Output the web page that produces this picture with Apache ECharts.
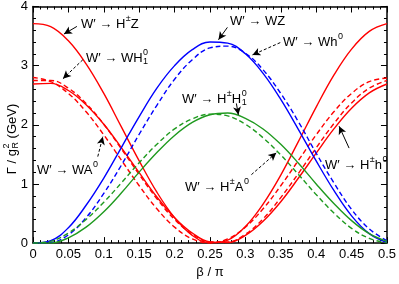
<!DOCTYPE html>
<html>
<head>
<meta charset="utf-8">
<script src="https://cdn.jsdelivr.net/npm/echarts@6/dist/echarts.min.js"></script>
<style>
html,body{margin:0;padding:0;background:#fff;}
#c{width:399px;height:284px;}
</style>
</head>
<body>
<div id="c"></div>
<script>
// ---- data ----
const beta = [0,0.025,0.05,0.075,0.1,0.125,0.15,0.175,0.2,0.225,0.25,0.275,0.3,0.325,0.35,0.375,0.4,0.425,0.45,0.475,0.5];
const wHpmZ  = [3.71,3.66,3.42,3.03,2.53,1.96,1.39,0.86,0.43,0.13,0.005,0.05,0.28,0.66,1.15,1.72,2.30,2.84,3.28,3.58,3.71];
const wHpmh0 = [2.69,2.70,2.58,2.34,2.01,1.61,1.19,0.78,0.43,0.17,0.02,0.01,0.13,0.37,0.70,1.10,1.52,1.93,2.28,2.54,2.69];
const wWH10  = [2.80,2.73,2.53,2.22,1.83,1.40,0.97,0.58,0.27,0.07,0.0,0.07,0.27,0.58,0.97,1.40,1.83,2.22,2.53,2.73,2.79];
const wWA0   = [2.75,2.75,2.62,2.36,2.01,1.59,1.16,0.75,0.40,0.15,0.02,0.02,0.15,0.41,0.77,1.18,1.61,2.02,2.37,2.62,2.75];
const wWZ    = [0.0,0.04,0.26,0.64,1.10,1.62,2.14,2.62,3.00,3.27,3.40,3.38,3.20,2.87,2.43,1.92,1.39,0.89,0.46,0.16,0.01];
const wWh0   = [0.0,0.01,0.14,0.43,0.84,1.32,1.84,2.33,2.77,3.10,3.30,3.33,3.21,2.93,2.53,2.05,1.52,1.02,0.57,0.24,0.04];
const wHH10  = [0.0,0.0,0.09,0.27,0.53,0.85,1.20,1.53,1.82,2.04,2.17,2.20,2.11,1.93,1.67,1.35,1.00,0.67,0.38,0.16,0.03];
const wHA0   = [0.0,0.03,0.17,0.40,0.69,1.02,1.36,1.67,1.93,2.10,2.18,2.15,2.01,1.78,1.49,1.16,0.82,0.51,0.25,0.08,0.0];
const xTickLabels = ['0','0.05','0.1','0.15','0.2','0.25','0.3','0.35','0.4','0.45','0.5'];
const yTickLabels = ['0','1','2','3','4'];

// arrows: [from, to] in data coords, dashed flag
const arrows = [
  [[0.062,3.663],[0.0437,3.534],false],
  [[0.0704,3.100],[0.0423,2.779],true],
  [[0.2746,3.647],[0.262,3.438],false],
  [[0.3493,3.390],[0.3099,3.181],true],
  [[0.2873,2.361],[0.2901,2.169],false],
  [[0.0915,1.462],[0.0986,1.799],true],
  [[0.3085,1.157],[0.3437,1.526],true],
  [[0.4465,1.606],[0.4324,1.976],false]
];

const FONT = '"Liberation Sans", Arial, Helvetica, sans-serif';
const RED='#ff0000', BLUE='#0000ff', GREEN='#1f9a1f';

const cv = document.createElement('canvas').getContext('2d');
function tw(t, s){ cv.font = s + 'px ' + FONT; return cv.measureText(t).width; }

// build composite label: parts = [text,'n'] | [text,'sup'] | [text,'sub'] | [[sub,sup],'ss']
function buildLabel(x0, y, parts, size){
  size = size || 13;
  const ss = Math.round(size*0.68);
  const els = [];
  let x = x0;
  const mk = (t, xx, yy, s) => ({type:'text', style:{text:t, x:xx, y:yy, fill:'#000', font: s+'px '+FONT, align:'left', verticalAlign:'middle'}});
  parts.forEach(p => {
    const k = p[1];
    if (k === 'n'){ els.push(mk(p[0], x, y, size)); x += tw(p[0], size); }
    else if (k === 'sup'){ els.push(mk(p[0], x+0.5, y-5, ss)); x += tw(p[0], ss)+0.5; }
    else if (k === 'sub'){ els.push(mk(p[0], x+0.5, y+4, ss)); x += tw(p[0], ss)+0.5; }
    else if (k === 'ss'){
      els.push(mk(p[0][0], x+0.5, y+4, ss));
      els.push(mk(p[0][1], x+0.5, y-5, ss));
      x += Math.max(tw(p[0][0], ss), tw(p[0][1], ss))+0.5;
    }
  });
  return {els, width: x - x0};
}

const labels = [
  [81, 24, [['W′ → H','n'],['±','sup'],['Z','n']]],
  [86, 58, [['W′ → WH','n'],[['1','0'],'ss']]],
  [230, 21, [['W′ → WZ','n']]],
  [283, 42, [['W′ → Wh','n'],['0','sup']]],
  [182, 99, [['W′ → H','n'],['±','sup'],['H','n'],[['1','0'],'ss']]],
  [37, 170, [['W′ → WA','n'],['0','sup']]],
  [185, 187, [['W′ → H','n'],['±','sup'],['A','n'],['0','sup']]],
  [325, 165, [['W′ → H','n'],['±','sup'],['h','n'],['0','sup']]]
];

const graphics = [];
labels.forEach(l => { buildLabel(l[0], l[1], l[2]).els.forEach(e => graphics.push(e)); });

// y-axis title (rotated)
const yt = buildLabel(0, 0, [['Γ / g','n'],[['R','2'],'ss'],[' (GeV)','n']], 13);
yt.els.forEach(e => { e.style.x -= yt.width/2; });
graphics.push({type:'group', x:12, y:139, rotation:Math.PI/2, children: yt.els});

const chart = echarts.init(document.getElementById('c'), null, {renderer:'canvas'});
function mkSeries(name, ys, color, dashed){
  return {name, type:'line', data: beta.map((b,i)=>[b, ys[i]]), showSymbol:false, smooth:0.4,
    lineStyle:{color, width:1.4, type: dashed ? [5,3] : 'solid'}, itemStyle:{color}, silent:true, z:2};
}
const axisCommon = {
  axisLine:{show:true, onZero:false, lineStyle:{color:'#000', width:1.5}},
  axisTick:{show:true, inside:true, length:6, lineStyle:{color:'#000', width:1}},
  minorTick:{show:true, splitNumber:5, length:3, lineStyle:{color:'#000', width:1}},
  splitLine:{show:false}
};
const option = {
  animation:false,
  backgroundColor:'#fff',
  grid:{left:33, right:11, top:5, bottom:29, containLabel:false},
  xAxis:[
    Object.assign({type:'value', min:0, max:0.5, interval:0.05, position:'bottom',
      axisLabel:{color:'#000', fontSize:13, fontFamily:FONT, margin:5,
        formatter:v => xTickLabels[Math.round(v/0.05)]},
      name:'β / π', nameLocation:'middle', nameGap:22,
      nameTextStyle:{color:'#000', fontSize:13, fontFamily:FONT}}, axisCommon),
    Object.assign({type:'value', min:0, max:0.5, interval:0.05, position:'top', axisLabel:{show:false}}, axisCommon)
  ],
  yAxis:[
    Object.assign({type:'value', min:0, max:4, interval:1, position:'left',
      axisLabel:{color:'#000', fontSize:13, fontFamily:FONT, margin:5,
        formatter:v => yTickLabels[Math.round(v)]}}, axisCommon),
    Object.assign({type:'value', min:0, max:4, interval:1, position:'right', axisLabel:{show:false}}, axisCommon)
  ],
  series:[
    mkSeries('H±Z', wHpmZ, RED, false),
    mkSeries('H±h0', wHpmh0, RED, false),
    mkSeries('WH10', wWH10, RED, true),
    mkSeries('WA0', wWA0, RED, true),
    mkSeries('WZ', wWZ, BLUE, false),
    mkSeries('Wh0', wWh0, BLUE, true),
    mkSeries('H±H10', wHH10, GREEN, false),
    mkSeries('H±A0', wHA0, GREEN, true),
    {type:'line', data:[], silent:true,
      markLine:{silent:true, symbol:['none','arrow'], symbolSize:[6,8], animation:false,
        label:{show:false},
        data: arrows.map(a => [
          {coord:a[0], lineStyle:{color:'#000', width:1, type: a[2] ? [3,2] : 'solid'}},
          {coord:a[1]}
        ])}}
  ],
  graphic: graphics
};
chart.setOption(option);
</script>
</body>
</html>
